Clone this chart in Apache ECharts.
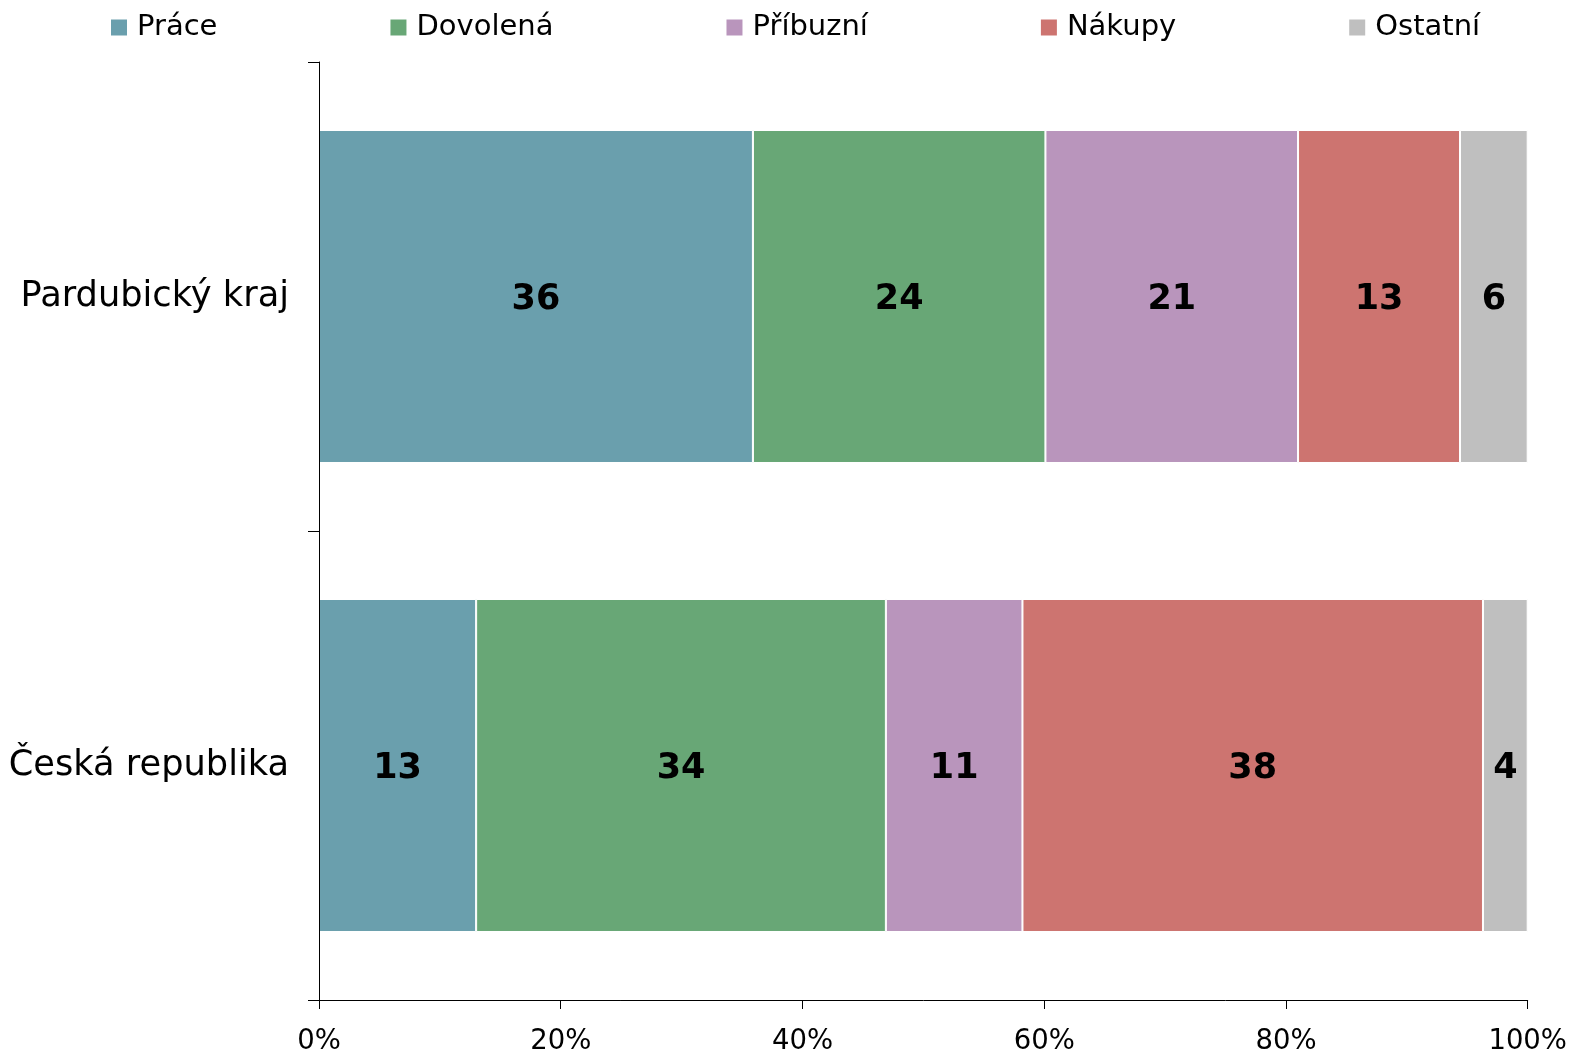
<!DOCTYPE html>
<html>
<head>
<meta charset="utf-8">
<script src="https://cdn.jsdelivr.net/npm/echarts@6/dist/echarts.min.js"></script>
<style>html,body{margin:0;padding:0;background:#fff}#c{width:1570px;height:1056px}</style>
</head>
<body>
<div id="c"></div>
<script>
const categories = ['Pardubický kraj', 'Česká republika'];
const seriesNames = ['Práce', 'Dovolená', 'Příbuzní', 'Nákupy', 'Ostatní'];
const prace = [35.9, 13.0];
const dovolena = [24.2, 33.9];
const pribuzni = [20.9, 11.3];
const nakupy = [13.4, 38.1];
const ostatni = [5.6, 3.7];
const xTicks = [0, 20, 40, 60, 80, 100];
const colors = ['#6A9FAD', '#68A776', '#B995BC', '#CD7470', '#BFBFBF'];

const values = [prace, dovolena, pribuzni, nakupy, ostatni];
const FONT = 'DejaVu Sans';

const chart = echarts.init(document.getElementById('c'), null, {renderer: 'canvas'});
chart.setOption({
  animation: false,
  backgroundColor: '#fff',
  color: colors,
  legend: {
    top: 8,
    left: 104,
    itemWidth: 18,
    itemHeight: 18,
    itemGap: 171,
    icon: 'rect',
    textStyle: {fontFamily: FONT, fontSize: 29, color: '#000', padding: [2, 0, 0, 4]},
    data: seriesNames
  },
  grid: {left: 319, right: 42, top: 62, bottom: 55, containLabel: false},
  xAxis: {
    type: 'value',
    min: 0, max: 100, interval: 20,
    axisLine: {show: true, lineStyle: {color: '#000', width: 1}},
    axisTick: {show: true, length: 9, lineStyle: {color: '#000'}},
    splitLine: {show: false},
    axisLabel: {fontFamily: FONT, fontSize: 27.5, color: '#000', margin: 28,
      formatter: v => xTicks.includes(v) ? v + '%' : ''}
  },
  yAxis: {
    type: 'category',
    inverse: true,
    data: categories,
    z: 5,
    axisLine: {show: true, lineStyle: {color: '#000', width: 1}},
    axisTick: {show: true, length: 11, lineStyle: {color: '#000'}},
    axisLabel: {fontFamily: FONT, fontSize: 35.2, color: '#000', margin: 30, padding: [6, 0, 0, 0]}
  },
  series: seriesNames.map((name, i) => ({
    name: name,
    type: 'bar',
    stack: 'total',
    barCategoryGap: '29%',
    data: values[i],
    itemStyle: {color: colors[i], borderColor: '#fff', borderWidth: 1},
    label: {
      show: true,
      position: 'inside',
      offset: [0, 3],
      fontFamily: FONT,
      fontWeight: 'bold',
      fontSize: 35,
      color: '#000',
      formatter: p => Math.round(p.value)
    }
  }))
});
</script>
</body>
</html>
